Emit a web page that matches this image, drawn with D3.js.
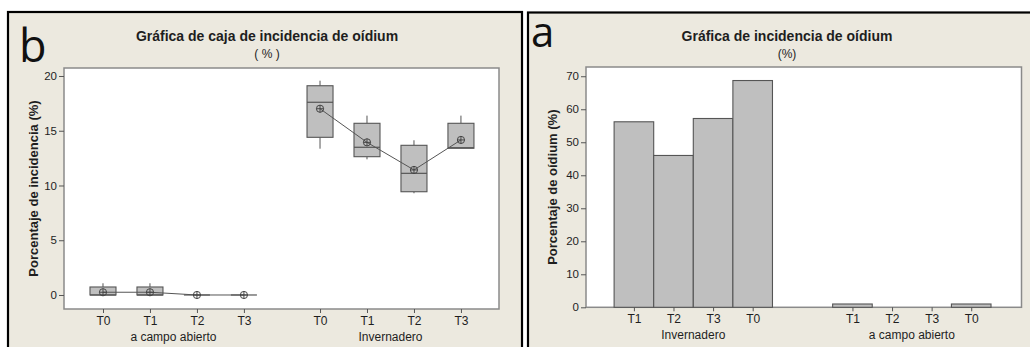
<!DOCTYPE html>
<html>
<head>
<meta charset="utf-8">
<script src="https://cdn.jsdelivr.net/npm/d3@7"></script>
<style>
  html, body { margin: 0; padding: 0; background: #ffffff; }
  svg { display: block; }
  text { font-family: "Liberation Sans", Arial, sans-serif; fill: #222; }
</style>
</head>
<body>
<svg id="chart" width="1030" height="347"></svg>
<script>
// ---- Panel b: box plots of incidence (%) ----
const boxGroups = ["a campo abierto", "Invernadero"];
const boxTreatments = ["T0", "T1", "T2", "T3"];
const boxMin    = [[0, 0, 0, 0], [13.36, 12.39, 9.29, 13.40]];
const boxQ1     = [[0, 0, 0, 0], [14.40, 12.63, 9.43, 13.40]];
const boxMedian = [[0, 0, 0, 0], [17.60, 13.49, 11.11, 13.45]];
const boxQ3     = [[0.73, 0.73, 0, 0], [19.11, 15.68, 13.67, 15.68]];
const boxMax    = [[1.07, 1.07, 0, 0], [19.57, 16.38, 14.13, 16.38]];
const boxMean   = [[0.25, 0.25, 0, 0], [17.01, 13.94, 11.42, 14.16]];
const boxTicks  = [0, 5, 10, 15, 20];

// ---- Panel a: bar chart of powdery mildew (%) ----
const barGroups = ["Invernadero", "a campo abierto"];
const barTreatments = ["T1", "T2", "T3", "T0"];
const barValues = [[56.2, 46.0, 57.2, 68.7], [1.0, 0, 0, 1.0]];
const barTicks  = [0, 10, 20, 30, 40, 50, 60, 70];

const svg = d3.select("#chart");
const BEIGE = "#ece9df";
const FILL = "#bfbfbf";
const EDGE = "#555";
const FRAME = "#8a8a8a";
const INK = "#1e1e1e";

// panel backgrounds + black frames
svg.append("rect").attr("x", 8).attr("y", 12).attr("width", 514).attr("height", 345)
  .attr("fill", BEIGE).attr("stroke", "#000").attr("stroke-width", 2.2);
svg.append("rect").attr("x", 528).attr("y", 12.5).attr("width", 510).attr("height", 345)
  .attr("fill", BEIGE).attr("stroke", "#000").attr("stroke-width", 2.2);

// panel letters
svg.append("text").attr("x", 19).attr("y", 62)
  .style("font-family", "'Open Sans', sans-serif").style("letter-spacing", "-6px")
  .attr("font-size", 45).style("fill", "#111").text("b");
svg.append("text").attr("x", 531).attr("y", 47).style("font-family", "'Open Sans', sans-serif")
  .attr("font-size", 42).style("fill", "#111").text("a");

function styleAxis(a, size) {
  a.select(".domain").remove();
  a.selectAll("line").attr("stroke", "#555");
  a.selectAll("text").attr("font-size", size)
    .style("font-family", "'Liberation Sans', sans-serif").style("fill", INK);
}

// ================= Panel b =================
(function () {
  const L = 64, R = 499, T = 68, B = 309;
  const gap = 0.62;
  const slot = (g, i) => g * (boxTreatments.length + gap) + i;
  const x = d3.scaleLinear().domain([-0.83, 8.43]).range([L, R]);
  const y = d3.scaleLinear().domain([-1.28, 20.73]).range([B, T]);
  const bw = 26;

  svg.append("rect").attr("x", L).attr("y", T).attr("width", R - L).attr("height", B - T)
    .attr("fill", "#fff").attr("stroke", FRAME).attr("stroke-width", 1.5);

  styleAxis(svg.append("g").attr("transform", `translate(${L},0)`)
    .call(d3.axisLeft(y).tickValues(boxTicks).tickSize(5).tickPadding(2).tickSizeOuter(0)), 11.5);

  const slots = [];
  boxGroups.forEach((g, gi) => boxTreatments.forEach((t, i) => slots.push({ gi, i, t, p: slot(gi, i) })));
  styleAxis(svg.append("g").attr("transform", `translate(0,${B})`)
    .call(d3.axisBottom(x).tickValues(slots.map(s => s.p)).tickFormat((d, k) => slots[k].t)
      .tickSize(4).tickPadding(3).tickSizeOuter(0)), 12);

  boxGroups.forEach((g, gi) => {
    const cx = (x(slot(gi, 0)) + x(slot(gi, boxTreatments.length - 1))) / 2;
    svg.append("text").attr("x", cx).attr("y", 341).attr("text-anchor", "middle")
      .attr("font-size", 12).style("fill", INK).text(g);
  });

  // boxes
  boxGroups.forEach((g, gi) => {
    boxTreatments.forEach((t, i) => {
      const cx = x(slot(gi, i));
      const q1 = boxQ1[gi][i], q3 = boxQ3[gi][i];
      const gEl = svg.append("g");
      if (boxMax[gi][i] > q3) gEl.append("line").attr("x1", cx).attr("x2", cx)
        .attr("y1", y(q3)).attr("y2", y(boxMax[gi][i])).attr("stroke", EDGE);
      if (boxMin[gi][i] < q1) gEl.append("line").attr("x1", cx).attr("x2", cx)
        .attr("y1", y(q1)).attr("y2", y(boxMin[gi][i])).attr("stroke", EDGE);
      gEl.append("rect").attr("x", cx - bw / 2).attr("y", y(q3)).attr("width", bw)
        .attr("height", Math.max(0, y(q1) - y(q3))).attr("fill", FILL).attr("stroke", EDGE).attr("stroke-width", 1.1);
      gEl.append("line").attr("x1", cx - bw / 2).attr("x2", cx + bw / 2)
        .attr("y1", y(boxMedian[gi][i])).attr("y2", y(boxMedian[gi][i])).attr("stroke", EDGE).attr("stroke-width", 1.2);
    });
    // line joining the means
    const line = d3.line().x((d, i) => x(slot(gi, i))).y(d => y(d));
    svg.append("path").attr("d", line(boxMean[gi])).attr("fill", "none").attr("stroke", "#555").attr("stroke-width", 1);
    // mean symbols (circle with cross)
    boxMean[gi].forEach((m, i) => {
      const cx = x(slot(gi, i)), cy = y(m), r = 3.6;
      const s = svg.append("g");
      s.append("circle").attr("cx", cx).attr("cy", cy).attr("r", r).attr("fill", "none").attr("stroke", "#444");
      s.append("line").attr("x1", cx - r).attr("x2", cx + r).attr("y1", cy).attr("y2", cy).attr("stroke", "#444");
      s.append("line").attr("x1", cx).attr("x2", cx).attr("y1", cy - r).attr("y2", cy + r).attr("stroke", "#444");
    });
  });

  svg.append("text").attr("x", 267).attr("y", 41).attr("text-anchor", "middle")
    .attr("font-size", 14).attr("font-weight", "bold").style("fill", INK).text("Gráfica de caja de incidencia de oídium");
  svg.append("text").attr("x", 267).attr("y", 58).attr("text-anchor", "middle")
    .attr("font-size", 12).style("fill", INK).text("( % )");
  svg.append("text").attr("transform", `translate(38,${(T + B) / 2}) rotate(-90)`).attr("text-anchor", "middle")
    .attr("font-size", 13).attr("font-weight", "bold").style("fill", INK).text("Porcentaje de incidencia (%)");
})();

// ================= Panel a =================
(function () {
  const L = 586, R = 1021.5, T = 67, B = 307.3;
  const gap = 1.52;
  const slot = (g, i) => g * (barTreatments.length + gap) + i;
  const x = d3.scaleLinear().domain([-1.21, 9.79]).range([L, R]);
  const y = d3.scaleLinear().domain([0, 72.8]).range([B, T]);
  const w = x(1) - x(0);

  svg.append("rect").attr("x", L).attr("y", T).attr("width", R - L).attr("height", B - T)
    .attr("fill", "#fff").attr("stroke", FRAME).attr("stroke-width", 1.5);

  styleAxis(svg.append("g").attr("transform", `translate(${L},0)`)
    .call(d3.axisLeft(y).tickValues(barTicks).tickSize(5).tickPadding(2).tickSizeOuter(0)), 11.5);

  const slots = [];
  barGroups.forEach((g, gi) => barTreatments.forEach((t, i) => slots.push({ gi, i, t, p: slot(gi, i) })));

  svg.append("g").selectAll("rect").data(slots).join("rect")
    .attr("x", d => x(d.p) - w / 2).attr("width", w)
    .attr("y", d => y(barValues[d.gi][d.i]))
    .attr("height", d => y(0) - y(barValues[d.gi][d.i]))
    .attr("fill", FILL).attr("stroke", EDGE).attr("stroke-width", 1.1);

  styleAxis(svg.append("g").attr("transform", `translate(0,${B})`)
    .call(d3.axisBottom(x).tickValues(slots.map(s => s.p)).tickFormat((d, k) => slots[k].t)
      .tickSize(4).tickPadding(3).tickSizeOuter(0)), 12);

  barGroups.forEach((g, gi) => {
    const cx = (x(slot(gi, 0)) + x(slot(gi, barTreatments.length - 1))) / 2;
    svg.append("text").attr("x", cx).attr("y", 339).attr("text-anchor", "middle")
      .attr("font-size", 12).style("fill", INK).text(g);
  });

  svg.append("text").attr("x", 787).attr("y", 41).attr("text-anchor", "middle")
    .attr("font-size", 14).attr("font-weight", "bold").style("fill", INK).text("Gráfica de incidencia de oídium");
  svg.append("text").attr("x", 787).attr("y", 58).attr("text-anchor", "middle")
    .attr("font-size", 12).style("fill", INK).text("(%)");
  svg.append("text").attr("transform", `translate(557,${(T + B) / 2}) rotate(-90)`).attr("text-anchor", "middle")
    .attr("font-size", 13).attr("font-weight", "bold").style("fill", INK).text("Porcentaje de oídium (%)");
})();
</script>
</body>
</html>
